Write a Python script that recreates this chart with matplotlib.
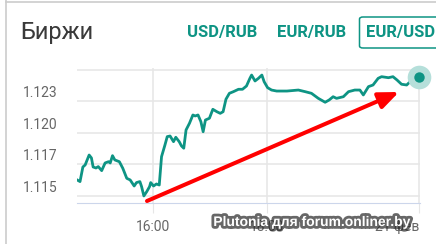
import matplotlib
matplotlib.use("Agg")
from matplotlib import pyplot as plt
from matplotlib import patheffects
from matplotlib.patches import FancyBboxPatch, FancyArrowPatch
from matplotlib.lines import Line2D

# time (hours, ordinal axis) and EUR/USD rate
hours = [14.67, 14.72, 14.77, 14.81, 14.88, 14.92, 14.95, 15.00, 15.04, 15.10,
         15.16, 15.22, 15.25, 15.29, 15.33, 15.41, 15.47, 15.54, 15.60, 15.67,
         15.71, 15.77, 15.80, 15.84, 15.89, 15.94, 15.96, 16.01, 16.06, 16.11,
         16.15, 16.21, 16.25, 16.30, 16.36, 16.40, 16.46, 16.50, 16.54, 16.58,
         16.64, 16.70, 16.74, 16.79, 16.84, 16.88, 16.92, 16.99, 17.05, 17.12,
         17.18, 17.23, 17.28, 17.34, 17.41, 17.50, 17.57, 17.64, 17.70, 17.73,
         17.79, 17.85, 17.91, 17.95, 18.01, 18.08, 18.17, 18.35, 18.55, 18.67,
         18.78, 18.90, 19.02, 19.09, 19.16, 19.22, 19.34, 19.43, 19.54, 19.63,
         19.69, 19.78, 19.86, 19.95, 20.01, 20.13, 20.21, 20.28, 20.36, 20.45,
         20.51, 20.57, 20.67]
rate = [1.11627, 1.11614, 1.11730, 1.11746, 1.11825, 1.11802, 1.11730, 1.11722, 1.11733, 1.11701,
        1.11762, 1.11772, 1.11762, 1.11820, 1.11786, 1.11772, 1.11720, 1.11640, 1.11627, 1.11579,
        1.11606, 1.11614, 1.11574, 1.11500, 1.11534, 1.11574, 1.11606, 1.11579, 1.11595, 1.11587,
        1.11812, 1.11905, 1.11971, 1.11976, 1.11931, 1.11966, 1.11931, 1.11897, 1.11879, 1.12024,
        1.12077, 1.12143, 1.12135, 1.12143, 1.12090, 1.12010, 1.12103, 1.12117, 1.12188, 1.12169,
        1.12156, 1.12169, 1.12268, 1.12315, 1.12328, 1.12347, 1.12347, 1.12373, 1.12434, 1.12460,
        1.12413, 1.12434, 1.12460, 1.12407, 1.12360, 1.12341, 1.12333, 1.12333, 1.12341, 1.12328,
        1.12315, 1.12275, 1.12244, 1.12262, 1.12288, 1.12275, 1.12288, 1.12328, 1.12341, 1.12341,
        1.12302, 1.12368, 1.12381, 1.12434, 1.12447, 1.12439, 1.12447, 1.12421, 1.12387, 1.12381,
        1.12407, 1.12421, 1.12447]

y_ticks = [1.115, 1.1175, 1.12, 1.1225, 1.125]
y_labels = ["1.115", "1.117", "1.120", "1.123", ""]
x_ticks = [16, 18, 20.67]
x_labels = ["16:00", "18:00", "21 фев"]
pairs = ["USD/RUB", "EUR/RUB", "EUR/USD"]

teal = "#0e9484"
W, H = 436, 244

plt.rcParams["font.family"] = ["Roboto", "DejaVu Sans"]
fig = plt.figure(figsize=(W / 100, H / 100), dpi=100)


def fx(x):
    return x / W


def fy(y):
    return 1 - y / H


# card borders
fig.add_artist(Line2D([fx(6), fx(6)], [0, 1], color="#cccccc", lw=1.2))
fig.add_artist(Line2D([fx(6), 1], [fy(1.5), fy(1.5)], color="#cccccc", lw=1.2))

fig.text(fx(20), fy(38.5), "Биржи", fontsize=17, color="#3a3a3a", va="baseline")
for name, cx in zip(pairs, [222, 311.5, 400.5]):
    fig.text(fx(cx), fy(33), name, fontsize=12, color=teal, fontweight="bold",
             ha="center", va="center")
fig.add_artist(FancyBboxPatch((fx(359.5), fy(48)), fx(90), fy(17) - fy(48),
                              boxstyle="round,pad=0,rounding_size=0.008",
                              transform=fig.transFigure, fc="none", ec=teal, lw=1.1))

ax = fig.add_axes([fx(77), fy(203), fx(420) - fx(77), fy(68) - fy(203)])
ax.plot(hours, rate, color=teal, lw=2.0, solid_joinstyle="round")
ax.plot(hours[-1], rate[-1], "o", ms=17, color="#b5dfda", mew=0, clip_on=False, zorder=4)
ax.plot(hours[-1], rate[-1], "o", ms=7.5, color=teal, mew=0, clip_on=False, zorder=5)

ax.set_xlim(14.667, 20.684)
ax.set_ylim(1.11444, 1.12516)
ax.set_yticks(y_ticks)
ax.set_yticklabels([])
ax.tick_params(axis="y", length=0)
for v, lab in zip(y_ticks, y_labels):
    ax.annotate(lab, xy=(0, v), xycoords=("axes fraction", "data"), xytext=(-20, 8),
                textcoords="offset pixels", ha="right", va="center",
                fontsize=10, color="#666666")
ax.set_xticks(x_ticks)
ax.set_xticklabels(x_labels, fontsize=10, color="#666666")
ax.get_xticklabels()[-1].set_ha("right")
ax.tick_params(axis="x", length=7, color="#e6e6e6", pad=5)
ax.grid(True, color="#e6e6e6", lw=1.1)
ax.set_axisbelow(True)
for s in ["top", "right", "left"]:
    ax.spines[s].set_visible(False)
ax.spines["bottom"].set_color("#ccd6eb")

# hand-drawn red arrow
fig.add_artist(FancyArrowPatch((fx(147), fy(201)), (fx(399), fy(92)),
                               transform=fig.transFigure, arrowstyle="-|>,head_length=12,head_width=5",
                               mutation_scale=1, color="#ff0000", lw=2.9, shrinkA=0, shrinkB=0))

fig.text(fx(312), fy(222), "Plutonia для forum.onliner.by", fontsize=10, fontweight="bold",
         color="white", ha="center", va="center", family=["Liberation Sans", "DejaVu Sans"],
         path_effects=[patheffects.withStroke(linewidth=4, foreground=(0.15, 0.15, 0.15, 0.7))])

fig.savefig("out.png", dpi=100)
